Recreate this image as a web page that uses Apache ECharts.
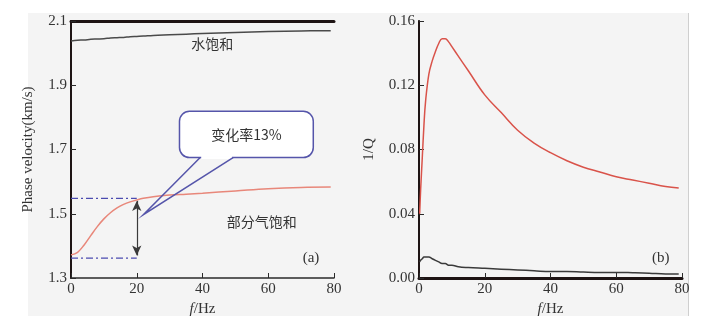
<!DOCTYPE html>
<html>
<head>
<meta charset="utf-8">
<script src="https://cdn.jsdelivr.net/npm/echarts@6/dist/echarts.min.js"></script>
<style>
  html, body { margin: 0; padding: 0; background: #fff; }
  #bg { position: absolute; left: 28px; top: 13px; width: 660px; height: 303px; background: #f4f4f4; border-right: 1px solid #cfcfcf; }
  #chart { position: absolute; left: 0; top: 0; width: 707px; height: 328px; }
</style>
</head>
<body>
<div id="bg"></div>
<div id="chart"></div>
<script>
// (a) phase velocity vs frequency
const freqA = [0, 2, 4, 6, 8, 10, 12, 14, 16, 18, 20, 22, 25, 30, 35, 40, 50, 60, 70, 79];
const waterVel = [2.038, 2.040, 2.041, 2.043, 2.044, 2.045, 2.047, 2.048, 2.049, 2.051, 2.052, 2.053, 2.055, 2.057, 2.059, 2.061, 2.064, 2.067, 2.069, 2.070];
const gasVel = [1.372, 1.380, 1.403, 1.432, 1.460, 1.484, 1.503, 1.518, 1.529, 1.537, 1.543, 1.548, 1.553, 1.558, 1.561, 1.564, 1.571, 1.578, 1.582, 1.583];
const refHigh = 1.548;
const refLow = 1.362;
const arrowF = 20;

// (b) attenuation 1/Q vs frequency
const freqB = [0.2, 0.5, 1, 1.5, 2, 3, 4, 5, 6, 7, 8, 9, 10, 12, 15, 20, 25, 30, 35, 40, 45, 50, 55, 60, 65, 70, 75, 79];
const gasQ = [0.040, 0.055, 0.075, 0.095, 0.110, 0.127, 0.135, 0.141, 0.146, 0.149, 0.149, 0.147, 0.144, 0.138, 0.129, 0.114, 0.103, 0.092, 0.084, 0.078, 0.073, 0.069, 0.066, 0.063, 0.061, 0.059, 0.057, 0.056];
const waterQ = [0.010, 0.011, 0.012, 0.013, 0.013, 0.013, 0.012, 0.011, 0.010, 0.009, 0.009, 0.008, 0.008, 0.007, 0.0065, 0.006, 0.0055, 0.005, 0.0045, 0.004, 0.004, 0.0037, 0.0035, 0.0035, 0.0033, 0.003, 0.0025, 0.0025];

const xTicks = [0, 20, 40, 60, 80];
const yTicksA = [1.3, 1.5, 1.7, 1.9, 2.1];
const yTicksB = [0, 0.04, 0.08, 0.12, 0.16];

// annotation anchors (data coords)
const waterLabelAt = [43, 2.028];
const gasLabelAt = [58, 1.475];
const panelALabelAt = [73, 1.362];
const panelBLabelAt = [73.5, 0.0125];
const calloutBox = [[33, 1.819], [73.7, 1.675]];
const calloutBase = [39.3, 49.3];
const calloutTip = [22, 1.497];

const pairs = (xs, ys) => xs.map((x, i) => [x, ys[i]]);

const serif = "Liberation Serif";
const cjk = "Noto Sans CJK SC";
const textColor = "#333";

function xAxisFor(gridIndex) {
  return [
    {
      gridIndex, type: "value", min: 0, max: 80, interval: 20,
      axisLine: { lineStyle: { color: "#2a2a2a", width: 1.5 } },
      axisTick: { inside: true, length: 5, lineStyle: { color: "#2a2a2a" } },
      axisLabel: { color: textColor, fontFamily: serif, fontSize: 15, margin: 4 },
      splitLine: { show: false },
      name: "{i|f}/Hz", nameLocation: "middle", nameGap: 19,
      nameTextStyle: {
        color: textColor, fontFamily: serif, fontSize: 15,
        rich: { i: { fontStyle: "italic", fontFamily: serif, fontSize: 15, color: textColor } },
      },
    },
    {
      gridIndex, type: "value", min: 0, max: 80, position: "top",
      axisLine: { lineStyle: { color: "#1e1414", width: 3 } },
      axisTick: { show: false }, axisLabel: { show: false }, splitLine: { show: false },
    },
  ];
}

function yAxisFor(gridIndex, min, max, interval, name, nameGap, fmt) {
  return [
    {
      gridIndex, type: "value", min, max, interval,
      axisLine: { lineStyle: { color: "#2a2a2a", width: 1.5 } },
      axisTick: { inside: true, length: 5, lineStyle: { color: "#2a2a2a" } },
      axisLabel: { color: textColor, fontFamily: serif, fontSize: 15, margin: 4, formatter: fmt },
      splitLine: { show: false },
      name, nameLocation: "middle", nameGap,
      nameTextStyle: { color: textColor, fontFamily: serif, fontSize: 15 },
    },
    {
      gridIndex, type: "value", min, max, position: "right",
      axisLine: { lineStyle: { color: "#1e1414", width: 2 } },
      axisTick: { show: false }, axisLabel: { show: false }, splitLine: { show: false },
    },
  ];
}

const chart = echarts.init(document.getElementById("chart"));

const lineBase = { type: "line", showSymbol: false, symbol: "none", smooth: 0.4, silent: true };
const dashDot = { color: "#4b4bb0", width: 1.2, type: [7, 3, 2, 3] };

chart.setOption({
  animation: false,
  grid: [
    { left: 71, right: 373, top: 21, bottom: 50 },
    { left: 419, right: 25, top: 21, bottom: 50 },
  ],
  xAxis: [...xAxisFor(0), ...xAxisFor(1)],
  yAxis: [
    ...yAxisFor(0, yTicksA[0], yTicksA[4], 0.2, "Phase velocity(km/s)", 35, v => v.toFixed(1)),
    ...yAxisFor(1, yTicksB[0], yTicksB[4], 0.04, "1/Q", 42, v => v.toFixed(2)),
  ],
  series: [
    { ...lineBase, xAxisIndex: 0, yAxisIndex: 0, data: pairs(freqA, waterVel), lineStyle: { color: "#4a4a4a", width: 1.5 } },
    { ...lineBase, xAxisIndex: 0, yAxisIndex: 0, data: pairs(freqA, gasVel), lineStyle: { color: "#e8877a", width: 1.5 } },
    { ...lineBase, smooth: false, xAxisIndex: 0, yAxisIndex: 0, data: [[0, refHigh], [arrowF, refHigh]], lineStyle: dashDot },
    {
      ...lineBase, smooth: false, xAxisIndex: 0, yAxisIndex: 0, data: [[0, refLow], [arrowF, refLow]], lineStyle: dashDot,
      markLine: {
        silent: true, symbol: ["arrow", "arrow"], symbolSize: [7, 10],
        lineStyle: { color: "#3a3a3a", width: 1.2, type: "solid" }, label: { show: false },
        data: [[{ coord: [arrowF, refHigh - 0.008] }, { coord: [arrowF, refLow + 0.008] }]],
      },
    },
    { ...lineBase, xAxisIndex: 2, yAxisIndex: 2, data: pairs(freqB, gasQ), lineStyle: { color: "#d9534a", width: 1.5 } },
    { ...lineBase, xAxisIndex: 2, yAxisIndex: 2, data: pairs(freqB, waterQ), lineStyle: { color: "#3a3a3a", width: 1.5 } },
  ],
});

// annotations placed from data coordinates
const toA = p => chart.convertToPixel({ gridIndex: 0 }, p);
const toB = p => chart.convertToPixel({ gridIndex: 1 }, p);

const boxTL = toA(calloutBox[0]);
const boxBR = toA(calloutBox[1]);
const base1 = toA([calloutBase[0], calloutBox[1][1]]);
const base2 = toA([calloutBase[1], calloutBox[1][1]]);
const tip = toA(calloutTip);
const calloutColor = "#5555aa";

function textAt(pt, text, font, size) {
  return {
    type: "text", x: pt[0], y: pt[1], silent: true,
    style: { text, fill: textColor, font: size + "px '" + font + "'", align: "center", verticalAlign: "middle" },
  };
}

chart.setOption({
  graphic: [
    {
      type: "rect", silent: true, z: 10,
      shape: { x: boxTL[0], y: boxTL[1], width: boxBR[0] - boxTL[0], height: boxBR[1] - boxTL[1], r: 10 },
      style: { fill: "#fff", stroke: calloutColor, lineWidth: 1.5 },
    },
    {
      type: "line", silent: true, z: 11,
      shape: { x1: base1[0] + 1, y1: base1[1], x2: base2[0] - 1, y2: base2[1] },
      style: { stroke: "#fff", lineWidth: 3 },
    },
    {
      type: "polyline", silent: true, z: 11,
      shape: { points: [base1, tip, base2] },
      style: { fill: null, stroke: calloutColor, lineWidth: 1.5 },
    },
    { ...textAt([(boxTL[0] + boxBR[0]) / 2, (boxTL[1] + boxBR[1]) / 2], "变化率13%", cjk, 14), z: 12 },
    textAt(toA(waterLabelAt), "水饱和", cjk, 14),
    textAt(toA(gasLabelAt), "部分气饱和", cjk, 14),
    textAt(toA(panelALabelAt), "(a)", serif, 15),
    textAt(toB(panelBLabelAt), "(b)", serif, 15),
  ],
});
</script>
</body>
</html>
